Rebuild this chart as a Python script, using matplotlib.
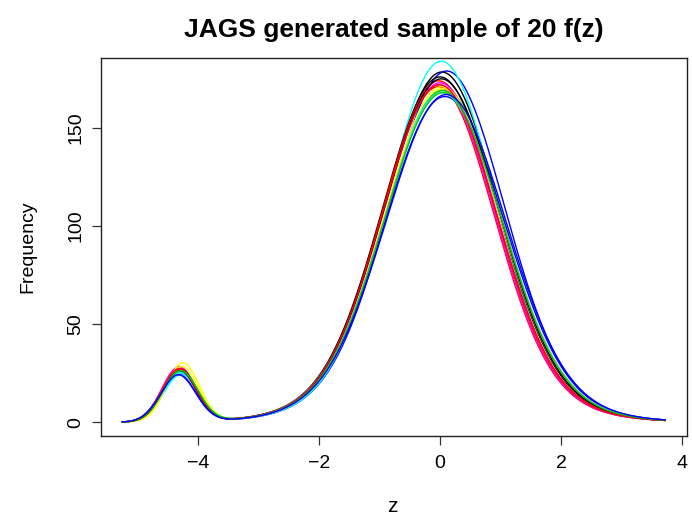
import numpy as np
import matplotlib
matplotlib.use("Agg")
import matplotlib.pyplot as plt

plt.rcParams['font.family'] = ['Liberation Sans', 'DejaVu Sans']

# grid of z values the sampled densities are evaluated on
z_min, z_max = -5.25, 3.72

# R's default palette, cycled by curve index
palette = ["black", "red", "#00CD00", "blue", "cyan", "magenta", "#FFFF00", "#BEBEBE"]

# parameters of each sampled f(z): main component, left component, broad component
main_height = [158.5, 151, 150, 159, 164, 152, 150, 149, 156, 154,
               149, 146, 148, 153, 151, 148, 155, 152, 148, 147]
main_center = [0.03, -0.03, 0.06, 0.11, 0.02, -0.02, 0.05, 0.04, 0.00, -0.02,
               0.04, 0.08, 0.03, 0.00, 0.03, 0.05, 0.02, -0.01, 0.05, 0.10]
main_sd = [0.92, 0.90, 0.93, 0.93, 0.88, 0.90, 0.93, 0.94, 0.93, 0.91,
           0.94, 0.96, 0.95, 0.91, 0.93, 0.95, 0.93, 0.92, 0.94, 0.96]
left_height = [27.0, 27.5, 26.0, 25.0, 24.0, 28.0, 30.0, 25.0, 27.0, 26.5,
               26.0, 24.0, 25.0, 27.0, 28.0, 26.0, 26.0, 27.0, 26.0, 24.0]
left_center = [-4.30, -4.32, -4.30, -4.30, -4.28, -4.31, -4.25, -4.29, -4.30, -4.31,
               -4.29, -4.33, -4.28, -4.31, -4.27, -4.30, -4.30, -4.31, -4.29, -4.32]
left_sd = [0.28, 0.28, 0.29, 0.29, 0.29, 0.28, 0.27, 0.29, 0.28, 0.28,
           0.29, 0.29, 0.29, 0.28, 0.28, 0.29, 0.28, 0.28, 0.29, 0.29]
broad_height = [20, 20, 20, 20, 20, 20, 20, 20, 20, 20,
                20, 20, 20, 20, 20, 20, 20, 20, 20, 20]
broad_sd = 1.5

xticks = [-4, -2, 0, 2, 4]
yticks = [0, 50, 100, 150]


def bump(x, h, m, s):
    return h * np.exp(-0.5 * ((x - m) / s) ** 2)


z = np.linspace(z_min, z_max, 400)
curves = []
for i in range(len(main_height)):
    f = (bump(z, main_height[i], main_center[i], main_sd[i])
         + bump(z, left_height[i], left_center[i], left_sd[i])
         + bump(z, broad_height[i], main_center[i], broad_sd))
    curves.append(f)

W, H = 692, 519
fig = plt.figure(figsize=(W / 100, H / 100), dpi=100)
x0, x1, y0, y1 = 100.6, 686.8, 58, 436
ax = fig.add_axes([x0 / W, 1 - y1 / H, (x1 - x0) / W, (y1 - y0) / H])

for i, f in enumerate(curves):
    ax.plot(z, f, color=palette[i % len(palette)], lw=1.0)

# axis limits as R computes them from the first curve (4% padding)
xr = z_max - z_min
ax.set_xlim(z_min - 0.04 * xr, z_max + 0.04 * xr)
f0 = curves[0]
yr = f0.max() - f0.min()
ax.set_ylim(f0.min() - 0.04 * yr, f0.max() + 0.04 * yr)

ax.set_xticks(xticks)
ax.set_xticklabels([str(t).replace("-", "\u2212") for t in xticks])
ax.set_yticks(yticks)
ax.set_yticklabels([str(t) for t in yticks], rotation=90, va="center")
ax.tick_params(direction="out", length=6.5, width=0.9, labelsize=14, color="#333333")
ax.tick_params(axis="x", pad=7)
ax.tick_params(axis="y", pad=5)
for sp in ax.spines.values():
    sp.set_linewidth(1.0)
    sp.set_color("#222222")

# axis titles and main title placed in figure pixels
fig.text(392 / W, 1 - 506 / H, "z", ha="center", va="center", fontsize=15)
fig.text(28 / W, 1 - 247 / H, "Frequency", ha="center", va="center",
         rotation=90, fontsize=14)
fig.text((x0 + x1) / 2 / W, 1 - 30 / H, "JAGS generated sample of 20 f(z)",
         ha="center", va="center", fontsize=19, fontweight="bold")

fig.savefig("out.png", dpi=100)
